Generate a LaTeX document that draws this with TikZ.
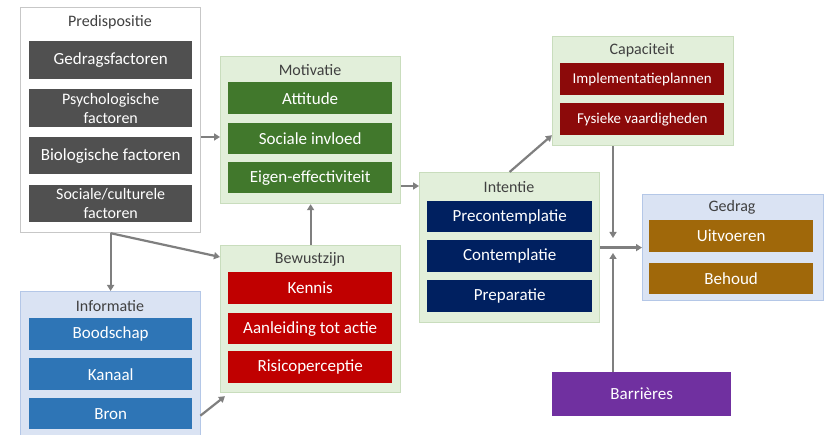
\documentclass[tikz,border=0pt]{standalone}
\usepackage{fontspec}
\setmainfont{Carlito}
\usetikzlibrary{calc,arrows.meta}
\definecolor{dgray}{HTML}{505050}
\definecolor{mgreen}{HTML}{41782C}
\definecolor{bred}{HTML}{C00000}
\definecolor{dred}{HTML}{8C0A0A}
\definecolor{navy}{HTML}{002060}
\definecolor{mblue}{HTML}{2E75B6}
\definecolor{brown}{HTML}{A0680A}
\definecolor{purp}{HTML}{7030A0}
\definecolor{lgreen}{HTML}{E2EFDA}
\definecolor{lgreenb}{HTML}{C9DDBD}
\definecolor{lblue}{HTML}{DAE3F3}
\definecolor{lblueb}{HTML}{B4C7E7}
\definecolor{lineg}{HTML}{7F7F7F}
\definecolor{titleg}{HTML}{404040}
\begin{document}
\begin{tikzpicture}[x=1pt,y=-1pt,
  outer/.style={draw, line width=1.2pt, anchor=north west, inner sep=0pt},
  outG/.style={outer, fill=lgreen, draw=lgreenb},
  outB/.style={outer, fill=lblue, draw=lblueb},
  outW/.style={outer, fill=white, draw=black!22},
  ttl/.style={text=titleg, font=\fontsize{16}{17}\selectfont, inner sep=0pt},
  item/.style={anchor=north west, inner sep=0pt, text=white, align=center,
    font=\fontsize{17}{18}\selectfont},
  arr/.style={draw=lineg, line width=2.2pt, -{Triangle[length=6pt,width=7pt]}},
  ln/.style={draw=lineg, line width=2.2pt}
]
\useasboundingbox (0,0) rectangle (825,435);
\fill[white] (0,0) rectangle (825,435);

% Predispositie
\node[outW, minimum width=180, minimum height=225] (pred) at (20,7) {};
\node[ttl] (predt) at (110,22) {Predispositie};
\node[item, fill=dgray, minimum width=163, minimum height=38] (p1) at (29,41) {Gedragsfactoren};
\node[item, fill=dgray, minimum width=163, minimum height=38, font=\fontsize{16}{19}\selectfont] (p2) at (29,89) {Psychologische\\factoren};
\node[item, fill=dgray, minimum width=163, minimum height=37] (p3) at (29,137) {Biologische factoren};
\node[item, fill=dgray, minimum width=163, minimum height=37, font=\fontsize{16}{19}\selectfont] (p4) at (29,185) {Sociale/culturele\\factoren};

% Motivatie
\node[outG, minimum width=180, minimum height=147] (mot) at (220,56) {};
\node[ttl] (mott) at (310,70) {Motivatie};
\node[item, fill=mgreen, minimum width=164, minimum height=32] (m1) at (228,82) {Attitude};
\node[item, fill=mgreen, minimum width=164, minimum height=31] (m2) at (228,123) {Sociale invloed};
\node[item, fill=mgreen, minimum width=164, minimum height=31] (m3) at (228,162) {Eigen-effectiviteit};

% Bewustzijn
\node[outG, minimum width=180, minimum height=147] (bew) at (220,245) {};
\node[ttl] (bewt) at (310,259) {Bewustzijn};
\node[item, fill=bred, minimum width=164, minimum height=32] (b1) at (228,272) {Kennis};
\node[item, fill=bred, minimum width=164, minimum height=31] (b2) at (228,313) {Aanleiding tot actie};
\node[item, fill=bred, minimum width=164, minimum height=32] (b3) at (228,351) {Risicoperceptie};

% Informatie
\node[outB, minimum width=180, minimum height=145] (info) at (20,291) {};
\node[ttl] (infot) at (110,306) {Informatie};
\node[item, fill=mblue, minimum width=163, minimum height=32] (i1) at (29,318) {Boodschap};
\node[item, fill=mblue, minimum width=163, minimum height=32] (i2) at (29,358) {Kanaal};
\node[item, fill=mblue, minimum width=163, minimum height=31] (i3) at (29,398) {Bron};

% Intentie
\node[outG, minimum width=180, minimum height=150] (int) at (419,172) {};
\node[ttl] (intt) at (509,187) {Intentie};
\node[item, fill=navy, minimum width=165, minimum height=31] (n1) at (427,201) {Precontemplatie};
\node[item, fill=navy, minimum width=165, minimum height=32] (n2) at (427,240) {Contemplatie};
\node[item, fill=navy, minimum width=165, minimum height=32] (n3) at (427,280) {Preparatie};

% Capaciteit
\node[outG, minimum width=181, minimum height=109] (cap) at (552,36) {};
\node[ttl] (capt) at (642,50) {Capaciteit};
\node[item, fill=dred, minimum width=164, minimum height=32, font=\fontsize{15}{16}\selectfont] (c1) at (560,63) {Implementatieplannen};
\node[item, fill=dred, minimum width=164, minimum height=32, font=\fontsize{15}{16}\selectfont] (c2) at (560,103) {Fysieke vaardigheden};

% Gedrag
\node[outB, minimum width=181, minimum height=106] (ged) at (642,194) {};
\node[ttl] (gedt) at (732,207) {Gedrag};
\node[item, fill=brown, minimum width=164, minimum height=32] (g1) at (649,220) {Uitvoeren};
\node[item, fill=brown, minimum width=164, minimum height=31] (g2) at (649,263) {Behoud};

% Barrieres
\node[item, fill=purp, minimum width=179, minimum height=44] (bar) at (552,372) {Barrières};

% connectors
\coordinate (j) at (613,246);
\draw[arr] (pred.east |- 0,137) -- (mot.west |- 0,137);
\draw[arr] (mot.east |- 0,186) -- (int.west |- 0,186);
\draw[arr] (bew.north) -- (mot.south);
\draw[arr] (pred.south) -- (info.north);
\draw[arr] (pred.south) -- ($(bew.north west)+(0,12)$);
\draw[arr] ($(i3.east)+(8,2)$) -- ($(bew.south west)+(5,3)$);
\draw[arr] (int.north) -- ($(cap.south west)+(0,-11)$);
\draw[arr] (cap.south -| j) -- ($(j)+(0,-8)$);
\draw[arr] (bar.north -| j) -- ($(j)+(0,7)$);
\draw[arr] (int.east) -- (ged.west);
\end{tikzpicture}
\end{document}
